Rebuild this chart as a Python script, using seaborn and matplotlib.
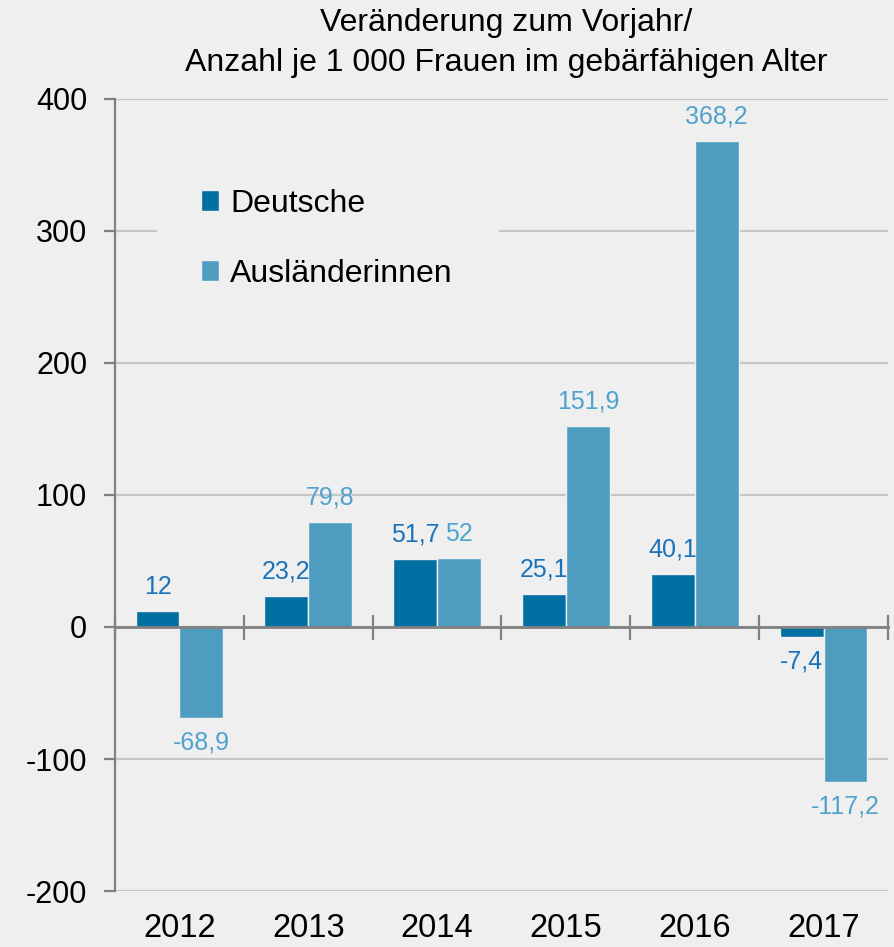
#!/usr/bin/env python3

import pandas as pd
import matplotlib.pyplot as plt
import seaborn as sns
import numpy as np

# data
years = ['2012', '2013', '2014', '2015', '2016', '2017']
deutsche = [12, 23.2, 51.7, 25.1, 40.1, -7.4]
auslaenderinnen = [-68.9, 79.8, 52, 151.9, 368.2, -117.2]
groups = ['Deutsche', 'Ausländerinnen']

bar_colors = ['#0070A2', '#4E9DC1']
label_colors = ['#1A72BA', '#4FA3CD']
bg = '#EEEFEE'


def fmt(v):
    # German decimal comma, integers without decimals
    return f"{v:g}".replace('.', ',')


df = pd.DataFrame({
    'Jahr': years * 2,
    'Wert': deutsche + auslaenderinnen,
    'Gruppe': [groups[0]] * len(years) + [groups[1]] * len(years),
})

sns.set_style('white')
plt.rcParams['font.family'] = ['Liberation Sans', 'DejaVu Sans']
plt.rcParams['axes.unicode_minus'] = False
plt.rcParams['text.color'] = 'black'

fig = plt.figure(figsize=(8.94, 9.47), dpi=100, facecolor=bg)
ax = fig.add_axes([115 / 894, 1 - 891 / 947, 773 / 894, 792 / 947])
ax.set_facecolor(bg)

sns.barplot(data=df, x='Jahr', y='Wert', hue='Gruppe', palette=bar_colors,
            saturation=1, width=0.68, edgecolor=bg, linewidth=1, ax=ax,
            zorder=3)

ax.set_ylim(-200, 400)
ax.set_xlim(-0.5, len(years) - 0.5)
ax.set_yticks(np.arange(-200, 401, 100))
ax.yaxis.grid(True, color='#C6C6C6', linewidth=1.6, zorder=0)
ax.set_axisbelow(True)

# value labels
for cont, col in zip(ax.containers, label_colors):
    labels = [fmt(b.get_height()) for b in cont]
    ax.bar_label(cont, labels=labels, padding=9, color=col, fontsize=18)

# spines: left axis and zero line with category separators
for s in ['top', 'right']:
    ax.spines[s].set_visible(False)
ax.spines['left'].set_color('#808080')
ax.spines['left'].set_linewidth(1.6)
ax.spines['bottom'].set_position(('data', 0))
ax.spines['bottom'].set_color('#808080')
ax.spines['bottom'].set_linewidth(2)
ax.spines['bottom'].set_zorder(4)

ax.tick_params(axis='y', left=True, direction='out', length=8, width=1.6,
               color='#808080', labelsize=22, pad=12, labelcolor='black')
ax.set_xticks(np.arange(-0.5, len(years), 1), minor=True)
ax.tick_params(axis='x', which='minor', bottom=True, direction='inout',
               length=18, width=1.6, color='#808080')
ax.tick_params(axis='x', which='major', length=0, labelbottom=False)
ax.set_xlabel('')
ax.set_ylabel('')

# year labels below the plot
sec = ax.secondary_xaxis(0)
sec.set_xticks(range(len(years)))
sec.set_xticklabels(years)
sec.tick_params(length=0, labelsize=23.5, pad=16, labelcolor='black')
sec.spines['bottom'].set_visible(False)

# legend
handles, labs = ax.get_legend_handles_labels()
leg = ax.legend(handles, labs, loc='upper left', bbox_to_anchor=(0.054, 0.943),
                frameon=True, facecolor=bg, edgecolor=bg, framealpha=1,
                fontsize=23, handlelength=0.55, handleheight=0.6,
                handletextpad=0.35, labelspacing=1.25, borderpad=1.4,
                borderaxespad=0)
for t in leg.get_texts():
    t.set_color('black')
leg.set_zorder(5)

fig.text(506 / 894, 1 - 43 / 947,
         'Veränderung zum Vorjahr/\nAnzahl je 1 000 Frauen im gebärfähigen Alter',
         ha='center', va='center', fontsize=23, linespacing=1.42, color='black')

fig.savefig('out.png', dpi=100, facecolor=bg)
plt.close(fig)
